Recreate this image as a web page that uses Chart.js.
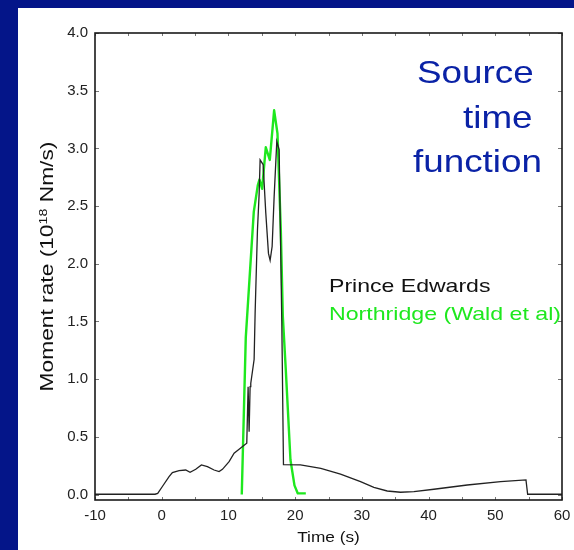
<!DOCTYPE html>
<html>
<head>
<meta charset="utf-8">
<script src="https://cdn.jsdelivr.net/npm/chart.js@4"></script>
<style>
  html, body { margin: 0; padding: 0; background: #041589; }
  body { width: 574px; height: 550px; position: relative; overflow: hidden; }
  #myChart { position: absolute; left: 18px; top: 8px; background: #fff; }
</style>
</head>
<body>
<canvas id="myChart" width="556" height="542"></canvas>
<script>
// Prince Edwards source time function
const peTime = [-10, -1.0, -0.6, 0.1, 1.1, 1.6, 2.6, 3.6, 4.25, 5.1, 5.95, 6.85, 7.85, 8.6, 9.1, 10.1, 10.85, 11.6, 12.4, 12.75,
  12.95, 13.1, 13.25, 13.35, 13.85, 14.0, 14.35, 14.6, 14.75, 15.2, 15.6, 16.0, 16.25, 16.55, 16.85, 17.25, 17.6, 18.0, 18.25,
  20.8, 23.85, 26.8, 29.8, 31.8, 33.8, 35.8, 37.8, 40.8, 45.8, 50.8, 54.6, 54.85, 60];
const peRate = [0.003, 0.003, 0.01, 0.07, 0.155, 0.19, 0.207, 0.213, 0.193, 0.219, 0.257, 0.242, 0.213, 0.199, 0.219, 0.285, 0.358, 0.393, 0.43, 0.445,
  0.935, 0.545, 0.935, 0.965, 1.17, 1.57, 2.29, 2.6, 2.9, 2.86, 2.44, 2.09, 2.03, 2.15, 2.58, 3.06, 2.99, 1.5, 0.26,
  0.257, 0.228, 0.178, 0.112, 0.063, 0.031, 0.02, 0.025, 0.046, 0.083, 0.112, 0.127, 0.003, 0.003];

// Northridge (Wald et al)
const nrTime = [12.0, 12.6, 13.8, 14.4, 14.65, 15.05, 15.6, 16.2, 16.85, 17.35, 17.85, 18.15, 18.6, 19.3, 19.9, 20.4, 21.6];
const nrRate = [0.0, 1.36, 2.45, 2.68, 2.73, 2.65, 3.01, 2.9, 3.33, 3.13, 2.3, 1.55, 1.08, 0.3, 0.08, 0.01, 0.01];

const xTicks = [-10, 0, 10, 20, 30, 40, 50, 60];
const yTicks = [0, 0.5, 1.0, 1.5, 2.0, 2.5, 3.0, 3.5, 4.0];

const GREEN = "#1ee81e";
const FONT = '"Liberation Sans", Arial, sans-serif';

function stretchText(ctx, str, x, y, size, sx, color, align) {
  ctx.save();
  ctx.font = size + "px " + FONT;
  ctx.fillStyle = color;
  ctx.textAlign = align || "left";
  ctx.textBaseline = "alphabetic";
  ctx.translate(x, y);
  ctx.scale(sx, 1);
  ctx.fillText(str, 0, 0);
  ctx.restore();
}

const frame = {
  id: "frame",
  afterDraw(chart) {
    const { ctx, chartArea: a, scales } = chart;
    const sx = scales.x, sy = scales.y;
    ctx.save();
    // inward tick marks
    ctx.strokeStyle = "#777";
    ctx.lineWidth = 1;
    ctx.beginPath();
    for (let t = sx.min; t <= sx.max; t += 5) {
      const px = Math.round(sx.getPixelForValue(t)) + 0.5;
      ctx.moveTo(px, a.top); ctx.lineTo(px, a.top + 3);
      ctx.moveTo(px, a.bottom); ctx.lineTo(px, a.bottom - 3);
    }
    yTicks.forEach(v => {
      const py = Math.round(sy.getPixelForValue(v)) + 0.5;
      ctx.moveTo(a.left, py); ctx.lineTo(a.left + 4, py);
      ctx.moveTo(a.right, py); ctx.lineTo(a.right - 4, py);
    });
    ctx.stroke();
    // box
    ctx.strokeStyle = "#1a1a1a";
    ctx.lineWidth = 1.6;
    ctx.strokeRect(a.left, a.top, a.right - a.left, a.bottom - a.top);

    // annotations
    const blue = "#0a22a6";
    stretchText(ctx, "Source", 399, 75, 32, 1.15, blue);
    stretchText(ctx, "time", 445, 120, 32, 1.15, blue);
    stretchText(ctx, "function", 395, 164, 32, 1.15, blue);
    stretchText(ctx, "Prince Edwards", 311, 284, 18.6, 1.24, "#111");
    stretchText(ctx, "Northridge (Wald et al)", 311, 312, 18.6, 1.245, GREEN);

    // axis titles
    stretchText(ctx, "Time (s)", (a.left + a.right) / 2, 534, 15, 1.15, "#111", "center");

    // y title with superscript
    ctx.save();
    ctx.translate(35, (a.top + a.bottom) / 2);
    ctx.rotate(-Math.PI / 2);
    ctx.scale(1.3, 1);
    ctx.fillStyle = "#111";
    ctx.textBaseline = "alphabetic";
    const big = "17.5px " + FONT;
    const small = "11px " + FONT;
    const p1 = "Moment rate (10", p2 = "18", p3 = " Nm/s)";
    ctx.font = big;
    const w1 = ctx.measureText(p1).width, w3 = ctx.measureText(p3).width;
    ctx.font = small;
    const w2 = ctx.measureText(p2).width;
    const x0 = -(w1 + w2 + w3) / 2;
    ctx.font = big;
    ctx.fillText(p1, x0, 0);
    ctx.font = small;
    ctx.fillText(p2, x0 + w1, -6.5);
    ctx.font = big;
    ctx.fillText(p3, x0 + w1 + w2, 0);
    ctx.restore();

    ctx.restore();
  }
};

Chart.defaults.font.family = FONT;
Chart.defaults.font.size = 15;
Chart.defaults.color = "#222";

const ctx = document.getElementById("myChart").getContext("2d");
const myChart = new Chart(ctx, {
  type: "line",
  data: {
    datasets: [
      {
        label: "Prince Edwards",
        data: peTime.map((t, i) => ({ x: t, y: peRate[i] })),
        borderColor: "#222",
        borderWidth: 1.3,
        pointRadius: 0,
        tension: 0
      },
      {
        label: "Northridge (Wald et al)",
        data: nrTime.map((t, i) => ({ x: t, y: nrRate[i] })),
        borderColor: GREEN,
        borderWidth: 2.4,
        borderJoinStyle: "round",
        pointRadius: 0,
        tension: 0
      }
    ]
  },
  options: {
    responsive: false,
    animation: false,
    layout: { padding: { left: 0, right: 12, top: 25, bottom: 0 } },
    plugins: {
      legend: { display: false },
      tooltip: { enabled: false }
    },
    scales: {
      x: {
        type: "linear",
        min: -10,
        max: 60,
        grid: { display: false, drawTicks: false },
        border: { display: false },
        afterFit: s => { s.height = 50; s.paddingLeft = 0; s.paddingRight = 0; },
        afterBuildTicks: s => { s.ticks = xTicks.map(v => ({ value: v })); },
        ticks: { padding: 7, maxRotation: 0, callback: v => String(v) }
      },
      y: {
        type: "linear",
        min: -0.047,
        max: 4.0,
        grid: { display: false, drawTicks: false },
        border: { display: false },
        afterFit: s => { s.width = 77; s.paddingTop = 0; s.paddingBottom = 0; },
        afterBuildTicks: s => { s.ticks = yTicks.map(v => ({ value: v })); },
        ticks: { padding: 7, callback: v => v.toFixed(1) }
      }
    }
  },
  plugins: [frame]
});
</script>
</body>
</html>
